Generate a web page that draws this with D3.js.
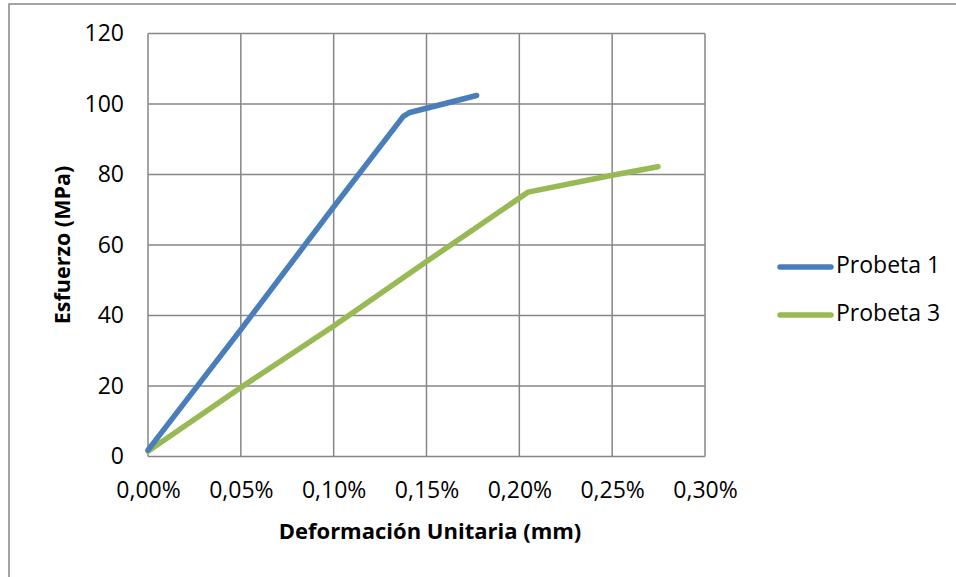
<!DOCTYPE html>
<html>
<head>
<meta charset="utf-8">
<script src="https://cdn.jsdelivr.net/npm/d3@7"></script>
<style>
  html, body { margin: 0; padding: 0; background: #fff; }
  svg { display: block; font-family: "Open Sans", sans-serif; }
</style>
</head>
<body>
<svg id="chart" width="956" height="577"></svg>
<script>
// Strain (%) vs. stress (MPa) for two specimens
const strainP1 = [0.000, 0.050, 0.100, 0.1375, 0.141, 0.177];
const stressP1 = [1.8, 36.0, 70.8, 96.5, 97.6, 102.4];
const strainP3 = [0.000, 0.050, 0.100, 0.150, 0.2047, 0.250, 0.2747];
const stressP3 = [1.5, 19.6, 37.0, 55.3, 75.0, 79.8, 82.2];
const seriesNames = ["Probeta 1", "Probeta 3"];
const seriesColors = ["#4a7ebb", "#98b954"];
const xTicks = [0, 0.05, 0.10, 0.15, 0.20, 0.25, 0.30];
const yTicks = [0, 20, 40, 60, 80, 100, 120];
const xTitle = "Deformación Unitaria (mm)";
const yTitle = "Esfuerzo (MPa)";

const FONT = "'Open Sans', sans-serif";
const svg = d3.select("#chart");
const plot = { left: 148, right: 705, top: 33.5, bottom: 456.5 };

// chart frame
svg.append("rect")
  .attr("x", 9).attr("y", 4).attr("width", 960).attr("height", 590)
  .attr("fill", "none").attr("stroke", "#868686").attr("stroke-width", 1.5);

const x = d3.scaleLinear().domain([0, 0.30]).range([plot.left, plot.right]);
const y = d3.scaleLinear().domain([0, 120]).range([plot.bottom, plot.top]);

const fmtPct = d => d.toFixed(2).replace(".", ",") + "%";

// gridlines
const grid = svg.append("g").attr("stroke", "#868686").attr("stroke-width", 1.5);
grid.selectAll(".vx").data(xTicks).join("line")
  .attr("x1", d => x(d)).attr("x2", d => x(d))
  .attr("y1", plot.top).attr("y2", plot.bottom);
grid.selectAll(".hy").data(yTicks).join("line")
  .attr("x1", plot.left).attr("x2", plot.right)
  .attr("y1", d => y(d)).attr("y2", d => y(d));

// axes (labels only, lines come from the grid)
const xAxis = svg.append("g")
  .attr("transform", `translate(0,${plot.bottom})`)
  .call(d3.axisBottom(x).tickValues(xTicks).tickFormat(fmtPct).tickSize(0).tickPadding(35));
const yAxis = svg.append("g")
  .attr("transform", `translate(${plot.left},0)`)
  .call(d3.axisLeft(y).tickValues(yTicks).tickSize(0).tickPadding(24));
[xAxis, yAxis].forEach(a => {
  a.select(".domain").remove();
  a.attr("font-family", FONT).attr("font-size", 23);
  a.selectAll("text").attr("fill", "#000");
});
xAxis.selectAll("text").attr("dy", 0).attr("dominant-baseline", "middle");

// series lines
const line = d3.line().x(d => x(d[0])).y(d => y(d[1]));
const series = [
  d3.zip(strainP1, stressP1),
  d3.zip(strainP3, stressP3)
];
// green first so blue sits on top near the origin
[1, 0].forEach(i => {
  svg.append("path")
    .datum(series[i])
    .attr("d", line)
    .attr("fill", "none")
    .attr("stroke", seriesColors[i])
    .attr("stroke-width", 5.5)
    .attr("stroke-linejoin", "round")
    .attr("stroke-linecap", "round");
});

// axis titles
svg.append("text")
  .attr("x", 430).attr("y", 539)
  .attr("text-anchor", "middle").attr("font-size", 22).attr("font-weight", "bold")
  .text(xTitle);
svg.append("text")
  .attr("transform", `translate(70,245) rotate(-90)`)
  .attr("text-anchor", "middle").attr("font-size", 21.5).attr("font-weight", "bold")
  .text(yTitle);

// legend
const legend = svg.append("g");
seriesNames.forEach((name, i) => {
  const ly = 267 + i * 48;
  legend.append("line")
    .attr("x1", 780).attr("x2", 831).attr("y1", ly).attr("y2", ly)
    .attr("stroke", seriesColors[i]).attr("stroke-width", 5.5).attr("stroke-linecap", "round");
  legend.append("text")
    .attr("x", 836).attr("y", ly).attr("dominant-baseline", "middle")
    .attr("font-size", 23).text(name);
});
</script>
</body>
</html>
